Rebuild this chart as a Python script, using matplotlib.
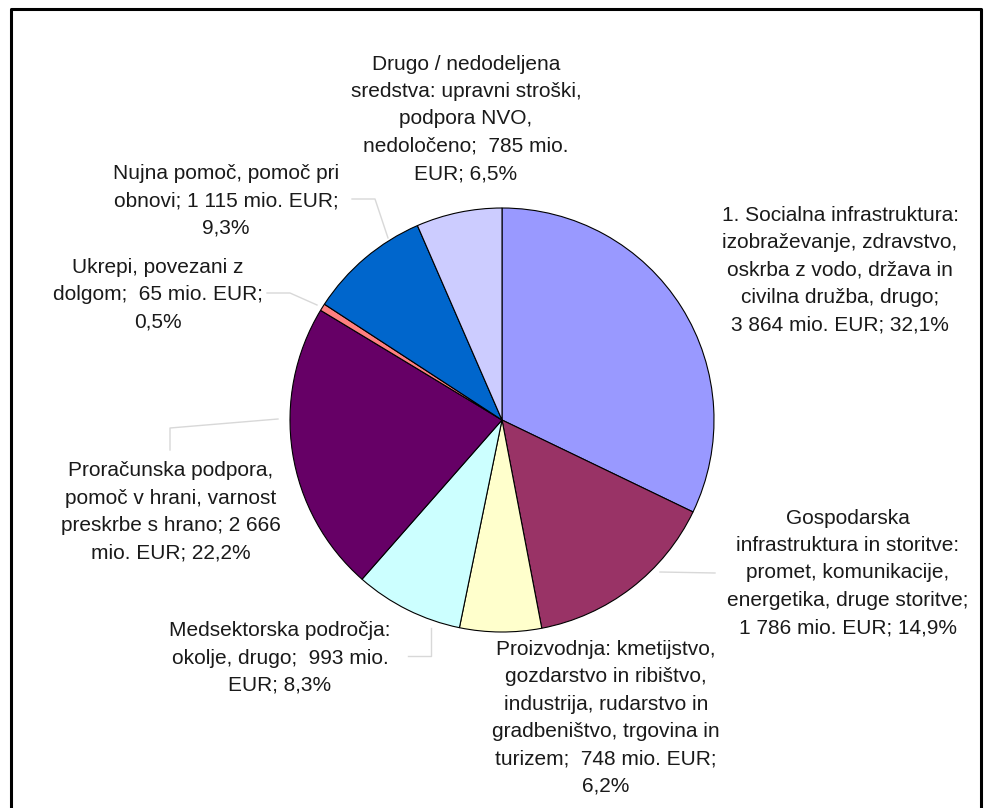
import matplotlib.pyplot as plt

# podatki (mio. EUR)
labels = [
    "1. Socialna infrastruktura:\nizobraževanje, zdravstvo,\noskrba z vodo, država in\ncivilna družba, drugo;\n3 864 mio. EUR; 32,1%",
    "Gospodarska\ninfrastruktura in storitve:\npromet, komunikacije,\nenergetika, druge storitve;\n1 786 mio. EUR; 14,9%",
    "Proizvodnja: kmetijstvo,\ngozdarstvo in ribištvo,\nindustrija, rudarstvo in\ngradbeništvo, trgovina in\nturizem;  748 mio. EUR;\n6,2%",
    "Medsektorska področja:\nokolje, drugo;  993 mio.\nEUR; 8,3%",
    "Proračunska podpora,\npomoč v hrani, varnost\npreskrbe s hrano; 2 666\nmio. EUR; 22,2%",
    "Ukrepi, povezani z\ndolgom;  65 mio. EUR;\n0,5%",
    "Nujna pomoč, pomoč pri\nobnovi; 1 115 mio. EUR;\n9,3%",
    "Drugo / nedodeljena\nsredstva: upravni stroški,\npodpora NVO,\nnedoločeno;  785 mio.\nEUR; 6,5%",
]
values = [3864, 1786, 748, 993, 2666, 65, 1115, 785]
colors = ["#9999FF", "#993366", "#FFFFCC", "#CCFFFF", "#660066", "#FF8080", "#0066CC", "#CCCCFF"]

# položaji oznak v pikslih (x, y od zgoraj)
label_pos = [(840, 270), (848, 573), (606, 718), (280, 658), (171, 512), (158, 295), (226, 201), (466, 119)]

W, H = 991, 808
fig = plt.figure(figsize=(W / 100, H / 100), dpi=100)
ax = fig.add_axes([0, 0, 1, 1])

plt.rcParams['font.family'] = ['Liberation Sans', 'DejaVu Sans']

cx, cy, r = 502, 420, 212
ax.pie(values, colors=colors, startangle=90, counterclock=False,
       center=(cx, H - cy), radius=r, frame=True,
       wedgeprops=dict(edgecolor='black', linewidth=0.8))
ax.set_xlim(0, W)
ax.set_ylim(0, H)
ax.axis('off')

for txt, (x, y) in zip(labels, label_pos):
    ax.text(x, H - y, txt, ha='center', va='center', fontsize=15,
            color='#1a1a1a', linespacing=1.56)

# povezovalne črte
leaders = [
    [(170, 450), (170, 428), (278, 419)],
    [(408, 656), (431, 656), (431, 628)],
    [(352, 199), (375, 199), (388, 238)],
    [(267, 293), (290, 293), (317, 305)],
    [(660, 572), (715, 573)],
]
for pts in leaders:
    xs = [p[0] for p in pts]
    ys = [H - p[1] for p in pts]
    ax.plot(xs, ys, color='#d8d8d8', linewidth=1)

# okvir
ax.plot([11, 11, 981, 981], [0, H - 9, H - 9, 0], color='black', linewidth=2.2)

fig.savefig('out.png', dpi=100, facecolor='white')
